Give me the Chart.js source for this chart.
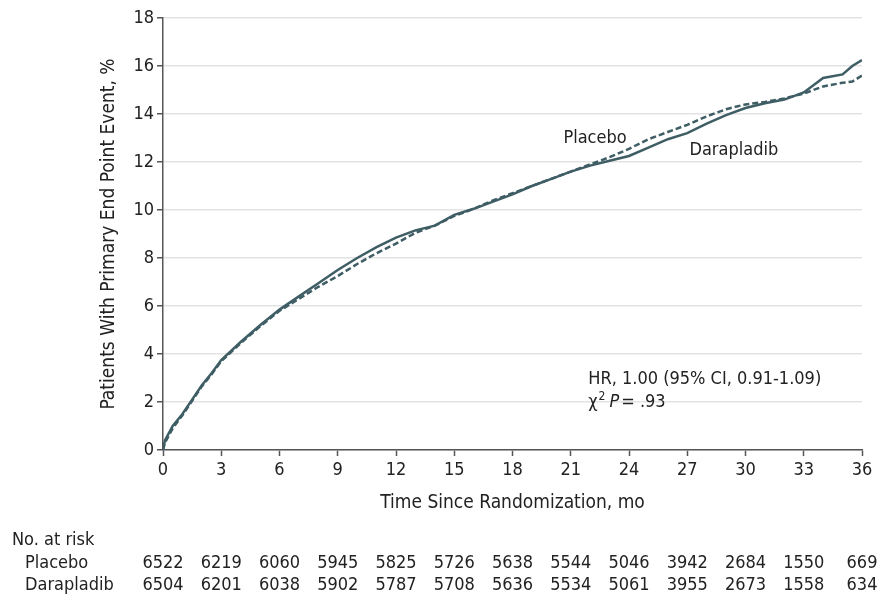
<!DOCTYPE html>
<html lang="en">
<head>
    <meta charset="UTF-8">
    <title>Primary End Point - Kaplan-Meier</title>
    <script src="https://cdn.jsdelivr.net/npm/chart.js"></script>
    <style>
        html, body { margin: 0; padding: 0; background: #fff; }
        #wrap { width: 881px; height: 594px; }
    </style>
</head>
<body>
    <div id="wrap"><canvas id="km-chart"></canvas></div>

    <script>
        // values (months, cumulative % with event)
        const months = [0, 0.1, 0.5, 1, 1.5, 2, 2.5, 3, 4, 5, 6, 7, 8, 9, 10, 11, 12, 13, 14, 15, 16, 17, 18,
            19, 20, 21, 22, 23, 24, 25, 26, 27, 28, 29, 30, 31, 32, 33, 34, 35, 35.5, 36];
        const darapladib = [0, 0.4, 1.0, 1.5, 2.1, 2.7, 3.2, 3.75, 4.5, 5.2, 5.85, 6.4, 6.95, 7.5, 8.0, 8.45, 8.85,
            9.15, 9.35, 9.8, 10.05, 10.35, 10.65, 11.0, 11.3, 11.6, 11.85, 12.05, 12.25, 12.6, 12.95, 13.2, 13.6,
            13.95, 14.25, 14.45, 14.6, 14.9, 15.5, 15.65, 16.0, 16.25];
        const placebo = [0, 0.3, 0.9, 1.45, 2.05, 2.65, 3.15, 3.7, 4.45, 5.15, 5.8, 6.3, 6.8, 7.25, 7.75, 8.2, 8.6,
            9.05, 9.35, 9.75, 10.05, 10.4, 10.7, 11.0, 11.3, 11.6, 11.9, 12.2, 12.55, 12.95, 13.25, 13.55, 13.9,
            14.2, 14.4, 14.5, 14.65, 14.85, 15.15, 15.3, 15.35, 15.6];

        // number at risk table
        const riskMonths = [0, 3, 6, 9, 12, 15, 18, 21, 24, 27, 30, 33, 36];
        const riskPlacebo = [6522, 6219, 6060, 5945, 5825, 5726, 5638, 5544, 5046, 3942, 2684, 1550, 669];
        const riskDarapladib = [6504, 6201, 6038, 5902, 5787, 5708, 5636, 5534, 5061, 3955, 2673, 1558, 634];

        const FONT = "'Liberation Sans Narrow', 'DejaVu Sans Condensed', 'Open Sans', sans-serif";
        const TEXT = '#222';
        const LINE = '#3e5d64';
        const AXIS = '#555';

        const toPoints = (xs, ys) => xs.map((x, i) => ({ x: x, y: ys[i] }));

        // labels, stats text and at-risk table
        const annotations = {
            id: 'annotations',
            afterDraw(chart) {
                const ctx = chart.ctx;
                const xs = chart.scales.x;
                const ys = chart.scales.y;
                ctx.save();
                ctx.fillStyle = TEXT;
                ctx.font = '18px ' + FONT;
                ctx.textBaseline = 'middle';

                // curve labels
                ctx.textAlign = 'center';
                ctx.fillText('Placebo', xs.getPixelForValue(22.25), ys.getPixelForValue(13.0));
                ctx.fillText('Darapladib', xs.getPixelForValue(29.4), ys.getPixelForValue(12.5));

                // HR text
                ctx.textAlign = 'left';
                const hx = xs.getPixelForValue(21.9);
                ctx.fillText('HR, 1.00 (95% CI, 0.91-1.09)', hx, ys.getPixelForValue(2.95));
                const py = ys.getPixelForValue(1.98);
                ctx.fillText('\u03C7', hx, py);
                let w = ctx.measureText('\u03C7').width;
                ctx.font = '12px ' + FONT;
                ctx.fillText('2', hx + w + 1, py - 6);
                w += ctx.measureText('2').width + 5;
                ctx.font = 'italic 18px ' + FONT;
                ctx.fillText('P', hx + w, py);
                w += ctx.measureText('P').width + 2;
                ctx.font = '18px ' + FONT;
                ctx.fillText('= .93', hx + w, py);

                // number at risk
                ctx.textAlign = 'left';
                ctx.fillText('No. at risk', 12, 540);
                ctx.fillText('Placebo', 25, 563);
                ctx.fillText('Darapladib', 25, 585);
                ctx.textAlign = 'center';
                riskMonths.forEach((m, i) => {
                    const px = xs.getPixelForValue(m);
                    ctx.fillText(String(riskPlacebo[i]), px, 563);
                    ctx.fillText(String(riskDarapladib[i]), px, 585);
                });
                ctx.restore();
            }
        };

        const ctx = document.getElementById('km-chart').getContext('2d');
        new Chart(ctx, {
            type: 'line',
            data: {
                datasets: [
                    {
                        label: 'Darapladib',
                        data: toPoints(months, darapladib),
                        borderColor: LINE,
                        borderWidth: 2.5,
                        pointRadius: 0,
                        tension: 0,
                        fill: false
                    },
                    {
                        label: 'Placebo',
                        data: toPoints(months, placebo),
                        borderColor: LINE,
                        borderWidth: 2.5,
                        borderDash: [6, 3],
                        pointRadius: 0,
                        tension: 0,
                        fill: false
                    }
                ]
            },
            options: {
                responsive: true,
                maintainAspectRatio: false,
                animation: false,
                layout: { padding: { left: 98, right: 19, top: 18, bottom: 79 } },
                plugins: {
                    legend: { display: false },
                    tooltip: { enabled: false }
                },
                scales: {
                    x: {
                        type: 'linear',
                        min: 0,
                        max: 36,
                        afterFit: s => { s.height = 65; },
                        ticks: { stepSize: 3, color: TEXT, font: { family: FONT, size: 18 }, padding: 4 },
                        grid: { drawOnChartArea: false, drawTicks: true, tickLength: 6, tickColor: AXIS, tickWidth: 1.5 },
                        border: { color: AXIS, width: 1.5 },
                        title: {
                            display: true,
                            text: 'Time Since Randomization, mo',
                            color: TEXT,
                            font: { family: FONT, size: 19 },
                            padding: { top: 4, bottom: 1 }
                        }
                    },
                    y: {
                        min: 0,
                        max: 18,
                        afterFit: s => { s.width = 65; },
                        ticks: { stepSize: 2, color: TEXT, font: { family: FONT, size: 18 }, padding: 3 },
                        grid: { color: '#e3e3e3', lineWidth: 1.5, tickLength: 6, tickColor: AXIS, tickWidth: 1.5 },
                        border: { color: AXIS, width: 1.5 },
                        title: {
                            display: true,
                            text: 'Patients With Primary End Point Event, %',
                            color: TEXT,
                            font: { family: FONT, size: 19 },
                            padding: { top: 0, bottom: 4 }
                        }
                    }
                }
            },
            plugins: [annotations]
        });
    </script>
</body>
</html>
